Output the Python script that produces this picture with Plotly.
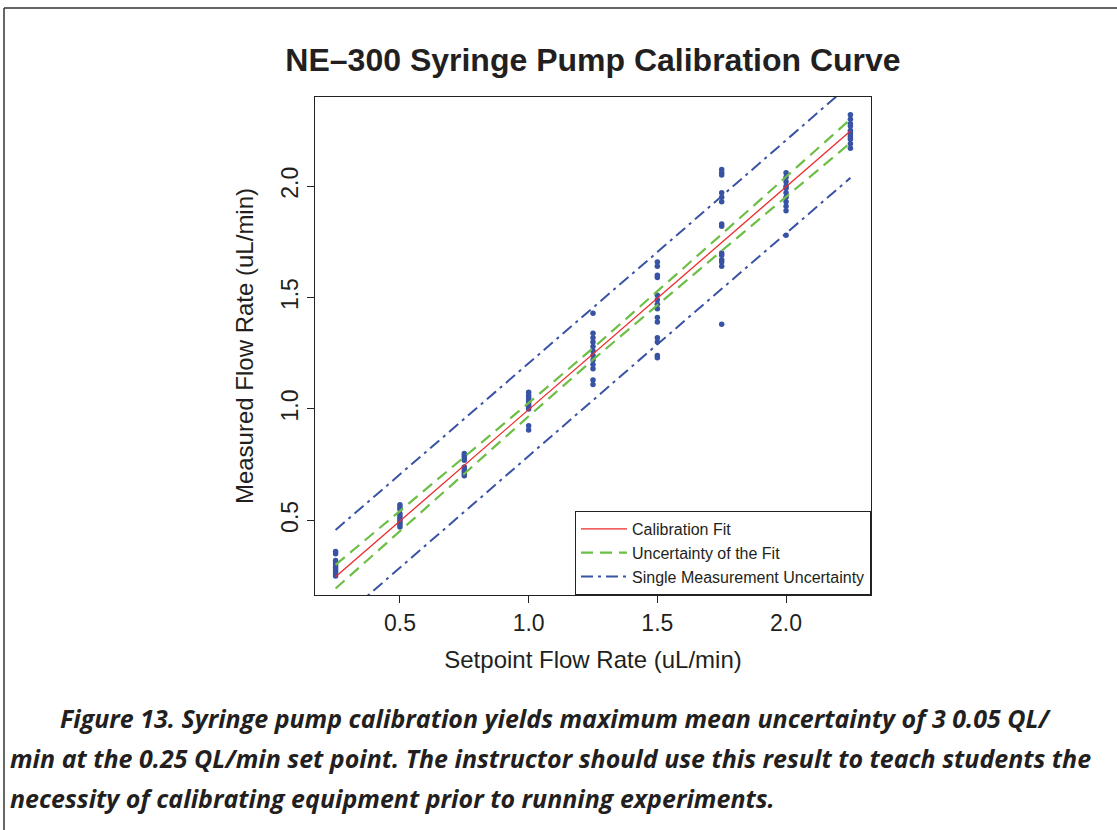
import plotly.graph_objects as go

# ---- data ----
setpoints = [0.25, 0.5, 0.75, 1.0, 1.25, 1.5, 1.75, 2.0, 2.25]

meas_025 = [0.36, 0.35, 0.32, 0.31, 0.30, 0.29, 0.28, 0.27, 0.26, 0.25]
meas_050 = [0.57, 0.56, 0.55, 0.53, 0.52, 0.51, 0.50, 0.49, 0.48, 0.47]
meas_075 = [0.80, 0.79, 0.78, 0.77, 0.74, 0.73, 0.72, 0.71, 0.70]
meas_100 = [1.075, 1.06, 1.05, 1.04, 1.03, 1.02, 1.01, 1.00, 0.925, 0.905]
meas_125 = [1.43, 1.34, 1.32, 1.30, 1.28, 1.26, 1.24, 1.22, 1.20, 1.18, 1.13, 1.11]
meas_150 = [1.66, 1.64, 1.60, 1.59, 1.51, 1.49, 1.47, 1.45, 1.41, 1.39, 1.32, 1.30, 1.24, 1.23]
meas_175 = [2.075, 2.06, 2.05, 1.97, 1.95, 1.93, 1.83, 1.82, 1.70, 1.69, 1.67, 1.66, 1.64, 1.38]
meas_200 = [2.06, 2.04, 2.02, 2.00, 1.99, 1.97, 1.95, 1.93, 1.91, 1.89, 1.78]
meas_225 = [2.32, 2.30, 2.28, 2.27, 2.25, 2.24, 2.23, 2.22, 2.21, 2.19, 2.17]

measured = [meas_025, meas_050, meas_075, meas_100, meas_125,
            meas_150, meas_175, meas_200, meas_225]

fit_values = [0.247, 0.497, 0.747, 0.997, 1.247, 1.497, 1.747, 1.997, 2.247]
fit_upper = [0.300, 0.542, 0.784, 1.027, 1.273, 1.527, 1.784, 2.042, 2.300]
fit_lower = [0.194, 0.452, 0.710, 0.967, 1.221, 1.467, 1.710, 1.952, 2.194]
pred_upper = [0.457, 0.706, 0.955, 1.204, 1.452, 1.704, 1.955, 2.206, 2.457]
pred_lower = [0.037, 0.288, 0.539, 0.790, 1.042, 1.290, 1.539, 1.788, 2.037]

x_ticks = [0.5, 1.0, 1.5, 2.0]
y_ticks = [0.5, 1.0, 1.5, 2.0]
tick_labels = ["0.5", "1.0", "1.5", "2.0"]

title_text = "NE\u2013300 Syringe Pump Calibration Curve"
x_title = "Setpoint Flow Rate (uL/min)"
y_title = "Measured Flow Rate (uL/min)"
caption_lines = [
    "Figure 13. Syringe pump calibration yields maximum mean uncertainty of 3 0.05 QL/",
    "min at the 0.25 QL/min set point. The instructor should use this result to teach students the",
    "necessity of calibrating equipment prior to running experiments.",
]
legend_names = ["Calibration Fit", "Uncertainty of the Fit", "Single Measurement Uncertainty"]

# ---- styling ----
W, H = 1117, 830
PL, PR, PT, PB = 315, 871, 97, 595  # plot area in pixels
BLUE = "#3953A4"
GREEN = "#6CBE45"
RED = "#EE2A2A"
TXT = "#231F20"
FONT = "Liberation Sans, Arial, Helvetica, sans-serif"


def px_x(p):
    return (p - PL) / (PR - PL)


def px_y(p):
    return (PB - p) / (PB - PT)


pts_x, pts_y = [], []
for sp, vals in zip(setpoints, measured):
    for v in vals:
        pts_x.append(sp)
        pts_y.append(v)

fig = go.Figure()
fig.add_trace(go.Scatter(x=pts_x, y=pts_y, mode="markers", showlegend=False,
                         marker=dict(color=BLUE, size=5.5, line=dict(width=0))))
fig.add_trace(go.Scatter(x=setpoints, y=fit_values, mode="lines", name=legend_names[0],
                         line=dict(color=RED, width=1.3)))
fig.add_trace(go.Scatter(x=setpoints, y=fit_upper, mode="lines", name=legend_names[1],
                         legendgroup="fit", line=dict(color=GREEN, width=2.2, dash="12px,7px")))
fig.add_trace(go.Scatter(x=setpoints, y=fit_lower, mode="lines", name=legend_names[1],
                         legendgroup="fit", showlegend=False,
                         line=dict(color=GREEN, width=2.2, dash="12px,7px")))
fig.add_trace(go.Scatter(x=setpoints, y=pred_upper, mode="lines", name=legend_names[2],
                         legendgroup="pred",
                         line=dict(color=BLUE, width=2, dash="12px,5px,3px,5px")))
fig.add_trace(go.Scatter(x=setpoints, y=pred_lower, mode="lines", name=legend_names[2],
                         legendgroup="pred", showlegend=False,
                         line=dict(color=BLUE, width=2, dash="12px,5px,3px,5px")))

axis_common = dict(showgrid=False, zeroline=False, showline=True, linecolor="#222",
                   linewidth=1, mirror=True, ticks="outside", ticklen=7, tickwidth=1,
                   tickcolor="#222", tickfont=dict(family=FONT, size=23, color=TXT),
                   title_font=dict(family=FONT, size=24, color=TXT))

fig.update_xaxes(range=[0.17, 2.33], tickvals=x_ticks, ticktext=tick_labels,
                 title_text=x_title, title_standoff=16, **axis_common)
fig.update_yaxes(range=[0.165, 2.40], tickvals=y_ticks, ticktext=tick_labels,
                 tickangle=-90, title_text=y_title, title_standoff=16, **axis_common)

annotations = []
cap_pos = [(58, 718), (8, 758), (8, 798)]
for txt, (cx, cy) in zip(caption_lines, cap_pos):
    annotations.append(dict(text="<b><i>" + txt + "</i></b>", xref="paper", yref="paper",
                            x=px_x(cx), y=px_y(cy), xanchor="left", yanchor="middle",
                            showarrow=False,
                            font=dict(family="Open Sans, sans-serif", size=25, color=TXT)))

shapes = [
    dict(type="line", xref="paper", yref="paper", x0=px_x(4), x1=px_x(W + 5),
         y0=px_y(8), y1=px_y(8), line=dict(color="#333", width=1.5)),
    dict(type="line", xref="paper", yref="paper", x0=px_x(4), x1=px_x(4),
         y0=px_y(8), y1=px_y(H + 5), line=dict(color="#333", width=1.5)),
]

fig.update_layout(
    width=W, height=H,
    margin=dict(l=PL, r=W - PR, t=PT, b=H - PB, pad=0),
    paper_bgcolor="white", plot_bgcolor="white",
    title=dict(text="<b>" + title_text + "</b>", x=(PL + PR) / 2 / W, xanchor="center",
               y=1 - 60 / H, yanchor="middle",
               font=dict(family=FONT, size=32, color=TXT)),
    legend=dict(x=1, xanchor="right", y=0, yanchor="bottom", bgcolor="white",
                bordercolor="#222", borderwidth=1, tracegroupgap=0, itemwidth=46,
                font=dict(family=FONT, size=16, color=TXT)),
    annotations=annotations,
    shapes=shapes,
)

fig.write_html("out.html", config={"displayModeBar": False},
               post_script="document.body.style.margin='0px';")
